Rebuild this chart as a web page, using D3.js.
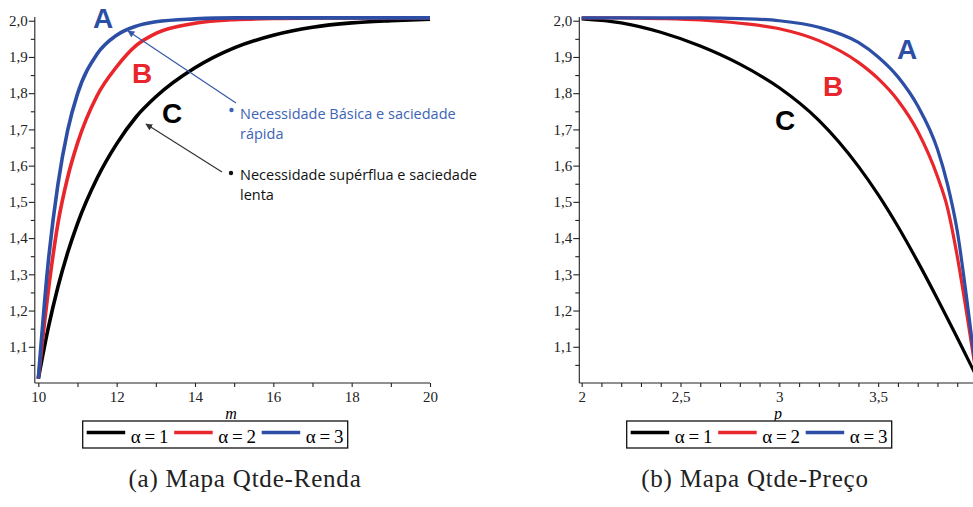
<!DOCTYPE html>
<html>
<head>
<meta charset="utf-8">
<script src="https://cdn.jsdelivr.net/npm/d3@7"></script>
<style>
  body { margin: 0; background: #fff; }
  svg { display: block; }
</style>
</head>
<body>
<svg id="chart" width="973" height="507"></svg>
<script>
// income map (a): quantity vs income m
const incomeM = [10, 10.25, 10.5, 10.75, 11, 11.5, 12, 12.5, 13, 14, 15, 16, 17, 18, 19, 20]
const incomeA = [1.012, 1.33, 1.548, 1.698, 1.798, 1.908, 1.96, 1.985, 1.997, 2.005, 2.008, 2.008, 2.008, 2.008, 2.008, 2.008]
const incomeB = [1.012, 1.25, 1.44, 1.568, 1.662, 1.793, 1.873, 1.932, 1.965, 1.993, 2.003, 2.006, 2.008, 2.008, 2.008, 2.008]
const incomeC = [1.012, 1.15, 1.265, 1.36, 1.44, 1.565, 1.66, 1.735, 1.79, 1.87, 1.925, 1.96, 1.982, 1.994, 2.0, 2.004]

// price map (b): quantity vs price p
const priceP = [2.0, 2.2, 2.4, 2.6, 2.8, 3.0, 3.2, 3.4, 3.5, 3.6, 3.7, 3.8, 3.85, 3.9, 3.95, 4.0]
const priceA = [2.008, 2.008, 2.008, 2.008, 2.006, 2.0, 1.982, 1.94, 1.9, 1.845, 1.765, 1.645, 1.55, 1.42, 1.225, 1.01]
const priceB = [2.008, 2.008, 2.006, 2.002, 1.993, 1.978, 1.945, 1.885, 1.84, 1.78, 1.695, 1.57, 1.485, 1.35, 1.185, 1.01]
const priceC = [2.005, 1.994, 1.968, 1.93, 1.88, 1.815, 1.725, 1.598, 1.52, 1.432, 1.335, 1.232, 1.179, 1.125, 1.07, 1.015]

const yTicks = [1.1, 1.2, 1.3, 1.4, 1.5, 1.6, 1.7, 1.8, 1.9, 2.0]
const yMinor = [1.05, 1.15, 1.25, 1.35, 1.45, 1.55, 1.65, 1.75, 1.85, 1.95]
const incomeTicks = [10, 12, 14, 16, 18, 20]
const incomeMinor = [11, 13, 15, 17, 19]
const priceTicks = [2, 2.5, 3, 3.5, 4]
const priceMinor = [2.1, 2.2, 2.3, 2.4, 2.6, 2.7, 2.8, 2.9, 3.1, 3.2, 3.3, 3.4, 3.6, 3.7, 3.8, 3.9]

const seriesNames = ["α = 1", "α = 2", "α = 3"]
const colors = ["#000000", "#e8262b", "#2c4ea5"]

const ptBR = d3.formatLocale({ decimal: ",", thousands: ".", grouping: [3], currency: ["", ""] })
const fmt1 = ptBR.format(".1f")
const fmtP = ptBR.format("~g")
const serif = "Liberation Serif, Times New Roman, serif"

const svg = d3.select("#chart")
svg.append("rect").attr("width", 973).attr("height", 507).attr("fill", "#fff")

const defs = svg.append("defs")
function arrowMarker (id, color) {
  defs.append("marker")
    .attr("id", id)
    .attr("viewBox", "0 0 10 10")
    .attr("refX", 9).attr("refY", 5)
    .attr("markerWidth", 7).attr("markerHeight", 7)
    .attr("orient", "auto")
    .attr("markerUnits", "userSpaceOnUse")
    .append("path")
    .attr("d", "M0,0 L10,5 L0,10 z")
    .attr("fill", color)
}
arrowMarker("arrBlue", "#3557a8")
arrowMarker("arrBlack", "#333")

function panel (opts) {
  const g = svg.append("g")
  const x = d3.scaleLinear().domain(opts.xDomain).range(opts.xRange)
  const y = d3.scaleLinear().domain([1.0, 2.01]).range([383, 17.1])

  // minor ticks
  g.append("g")
    .attr("transform", `translate(${opts.xRange[0]},0)`)
    .call(d3.axisLeft(y).tickValues(yMinor).tickSize(4).tickFormat(""))
    .call(a => a.select(".domain").remove())
  g.append("g")
    .attr("transform", "translate(0,383)")
    .call(d3.axisBottom(x).tickValues(opts.minor).tickSize(4).tickFormat(""))
    .call(a => a.select(".domain").remove())

  // major axes
  const yAxis = g.append("g")
    .attr("transform", `translate(${opts.xRange[0]},0)`)
    .call(d3.axisLeft(y).tickValues(yTicks).tickSize(6).tickPadding(1).tickFormat(fmt1))
  yAxis.attr("font-family", serif).attr("font-size", 15)
  yAxis.select(".domain").attr("d", `M0,${y(2.01)}V383`)

  const xAxis = g.append("g")
    .attr("transform", "translate(0,383)")
    .call(d3.axisBottom(x).tickValues(opts.ticks).tickSize(4).tickPadding(4).tickFormat(opts.tickFormat))
  xAxis.attr("font-family", serif).attr("font-size", 15)
  xAxis.select(".domain").attr("d", `M${opts.xRange[0]},0H${opts.axisEnd}`)

  g.selectAll(".domain, .tick line").attr("stroke", "#222").attr("stroke-width", 1.1)
  g.selectAll(".tick text").attr("fill", "#222")

  // curves
  const line = d3.line()
    .x((d, i) => x(opts.xs[i]))
    .y(d => y(d))
    .curve(d3.curveMonotoneX)
  opts.series.forEach((s, i) => {
    g.append("path")
      .datum(s)
      .attr("d", line)
      .attr("fill", "none")
      .attr("stroke", colors[i])
      .attr("stroke-width", opts.lineWidth)
      .attr("stroke-linejoin", "round")
  })

  // axis title
  g.append("text")
    .attr("x", opts.titleX).attr("y", 419)
    .attr("text-anchor", "middle")
    .attr("font-family", serif)
    .attr("font-style", "italic")
    .attr("font-size", 16)
    .text(opts.title)

  // legend
  const lg = g.append("g").attr("transform", `translate(${opts.legendX},421)`)
  lg.append("rect")
    .attr("width", 265).attr("height", 27)
    .attr("fill", "#fff").attr("stroke", "#111").attr("stroke-width", 1.3)
  seriesNames.forEach((name, i) => {
    const ox = 4 + i * 87.5
    lg.append("line")
      .attr("x1", ox).attr("x2", ox + 38.5)
      .attr("y1", 11.5).attr("y2", 11.5)
      .attr("stroke", colors[i]).attr("stroke-width", 3.5)
    lg.append("text")
      .attr("x", ox + 44).attr("y", 21.5)
      .attr("font-family", serif)
      .attr("font-size", 19)
      .text(name.replace(/ /g, "\u2009"))
  })

  // big letter labels
  opts.letters.forEach(l => {
    g.append("text")
      .attr("x", l.x).attr("y", l.y)
      .attr("font-family", "Liberation Sans, Arial, sans-serif")
      .attr("font-weight", "bold")
      .attr("font-size", 28)
      .attr("fill", l.color)
      .text(l.t)
  })

  // caption
  svg.append("text")
    .attr("x", opts.captionX).attr("y", 487)
    .attr("text-anchor", "middle")
    .attr("font-family", serif)
    .attr("font-size", 25)
    .attr("letter-spacing", 0.8)
    .attr("fill", "#222")
    .text(opts.caption)

  return { g, x, y }
}

panel({
  xDomain: [9.91, 20], xRange: [34.8, 430], axisEnd: 430,
  ticks: incomeTicks, minor: incomeMinor, tickFormat: d3.format("d"),
  xs: incomeM, series: [incomeC, incomeB, incomeA], lineWidth: 3.6,
  title: "m", titleX: 231, legendX: 82.7,
  letters: [
    { t: "A", x: 93, y: 28, color: colors[2] },
    { t: "B", x: 132, y: 83, color: colors[1] },
    { t: "C", x: 162, y: 123, color: colors[0] }
  ],
  caption: "(a) Mapa Qtde-Renda", captionX: 245
})

panel({
  xDomain: [1.988, 4.0], xRange: [579.3, 977], axisEnd: 973,
  ticks: priceTicks, minor: priceMinor, tickFormat: fmtP,
  xs: priceP, series: [priceC, priceB, priceA], lineWidth: 3.2,
  title: "p", titleX: 778, legendX: 626.7,
  letters: [
    { t: "A", x: 897, y: 59, color: colors[2] },
    { t: "B", x: 823, y: 96, color: colors[1] },
    { t: "C", x: 775, y: 130, color: colors[0] }
  ],
  caption: "(b) Mapa Qtde-Preço", captionX: 755
})

// annotations on panel (a)
const notes = [
  { lines: ["Necessidade Básica e saciedade", "rápida"], color: "#3d63b6", arrow: "#3557a8", marker: "arrBlue",
    bx: 231.5, by: 110, tx: 240, ty: 119, from: [236, 103], to: [128, 31] },
  { lines: ["Necessidade supérflua e saciedade", "lenta"], color: "#111", arrow: "#333", marker: "arrBlack",
    bx: 231, by: 173, tx: 240, ty: 180, from: [222, 172], to: [146, 124] }
]
notes.forEach(n => {
  svg.append("line")
    .attr("x1", n.from[0]).attr("y1", n.from[1])
    .attr("x2", n.to[0]).attr("y2", n.to[1])
    .attr("stroke", n.arrow).attr("stroke-width", 1.2)
    .attr("marker-end", `url(#${n.marker})`)
  svg.append("circle").attr("cx", n.bx).attr("cy", n.by).attr("r", 2.2).attr("fill", n.color)
  const t = svg.append("text")
    .attr("x", n.tx).attr("y", n.ty)
    .attr("font-family", "Open Sans, sans-serif")
    .attr("font-size", 14.5)
    .attr("fill", n.color)
  n.lines.forEach((s, i) => {
    t.append("tspan").attr("x", n.tx).attr("dy", i === 0 ? 0 : 19.5).text(s)
  })
})
</script>
</body>
</html>
